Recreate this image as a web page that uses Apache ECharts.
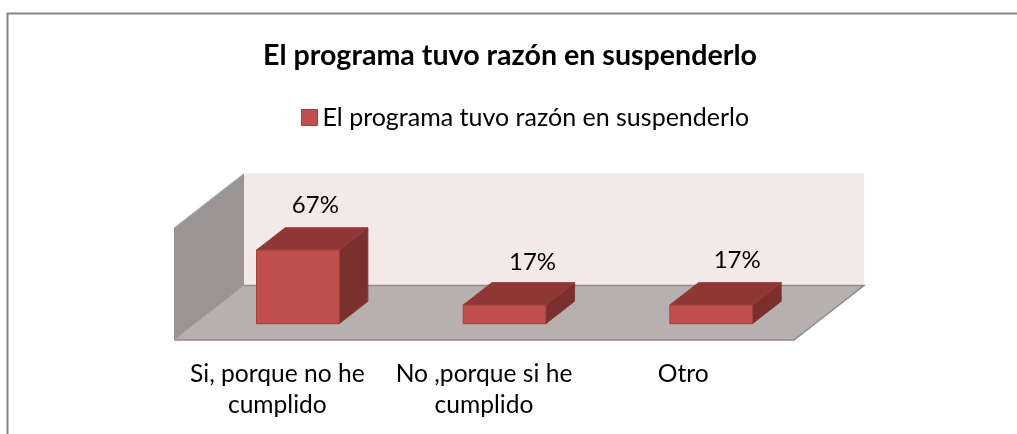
<!DOCTYPE html>
<html><head><meta charset="utf-8">
<style>html,body{margin:0;padding:0;background:#fff}#c{width:1017px;height:434px}</style>
<script src="https://cdn.jsdelivr.net/npm/echarts@6/dist/echarts.min.js"></script>
</head><body><div id="c"></div>
<script>
const chartTitle = 'El programa tuvo razón en suspenderlo';
const seriesName = 'El programa tuvo razón en suspenderlo';
const categories = ['Si, porque no he\ncumplido', 'No ,porque si he\ncumplido', 'Otro'];
const values = [67, 17, 17];
const axisMax = 102;

// 3D projection look
const DEPTH_X = 70, DEPTH_Y = -54.5;      // full floor depth in pixels
const BAR_DEPTH = 0.41;                   // bar depth as a share of floor depth
const BAR_START = 0.30;                   // gap in front of the bars, share of depth
const BAR_BAND = 0.4;                     // bar width as a share of a category
const LABEL_DX = [17.5, 28, 26], LABEL_DY = [0, 2, 0];
const FONT = 'Lato, Carlito, sans-serif';

const chart = echarts.init(document.getElementById('c'), null, {renderer: 'canvas'});

function poly(pts, fill, stroke, w) {
  return {type: 'polygon', shape: {points: pts}, style: {fill: fill, stroke: stroke || null, lineWidth: w || 0}};
}

function renderRoom(params, api) {
  const a = api.coord([0, 0]);
  const bw = api.size([1, 0])[0];
  const x0 = a[0] - bw / 2, x1 = x0 + bw * 3;
  const y0 = a[1], yT = api.coord([0, axisMax])[1];
  const dx = DEPTH_X, dy = DEPTH_Y;
  return {type: 'group', silent: true, children: [
    poly([[x0 + dx, y0 + dy], [x1 + dx, y0 + dy], [x1 + dx, yT + dy], [x0 + dx, yT + dy]], '#f4e9e9'),
    poly([[x0, y0], [x0 + dx, y0 + dy], [x0 + dx, yT + dy], [x0, yT]], '#9a9594'),
    poly([[x0, y0], [x1, y0], [x1 + dx, y0 + dy], [x0 + dx, y0 + dy]], '#b8afaf'),
    {type: 'polyline', shape: {points: [[x0, yT], [x0 + dx, yT + dy]]}, style: {stroke: '#b5b1b0', lineWidth: 1, fill: null}},
    {type: 'polyline', shape: {points: [[x0 + dx, y0 + dy], [x0, y0]]}, style: {stroke: '#a5a09f', lineWidth: 1, fill: null}},
    {type: 'polyline', shape: {points: [[x0, y0], [x1, y0], [x1 + dx, y0 + dy], [x0 + dx, y0 + dy]]},
      style: {stroke: '#8f8b8b', lineWidth: 1.5, fill: null}}
  ]};
}

function renderBar(params, api) {
  const i = api.value(0), v = api.value(1);
  const c = api.coord([i, 0]), t = api.coord([i, v]);
  const bw = api.size([1, 0])[0] * BAR_BAND;
  const ox = DEPTH_X * BAR_START, oy = DEPTH_Y * BAR_START;
  const dx = DEPTH_X * BAR_DEPTH, dy = DEPTH_Y * BAR_DEPTH;
  const l = c[0] + ox - bw / 2 - 0.5, r = l + bw, b = c[1] + oy, h = t[1] + oy;
  const edge = '#a2413f';
  return {type: 'group', children: [
    poly([[r, b], [r + dx, b + dy], [r + dx, h + dy], [r, h]], '#7c302e', '#873634', 1),
    poly([[l, h], [r, h], [r + dx, h + dy], [l + dx, h + dy]], '#8f3735', '#983b39', 1),
    poly([[l, b], [r, b], [r, h], [l, h]], '#c0504d', edge, 1),
    {type: 'text', x: (l + r) / 2 + LABEL_DX[i], y: h + dy - 22 + LABEL_DY[i],
      style: {text: Math.round(v) + '%', fill: '#000', font: '24px ' + FONT, align: 'center', verticalAlign: 'middle'}}
  ]};
}

const tickStyle = {fontFamily: FONT, fontSize: 24.6, color: '#000', lineHeight: 31};

chart.setOption({
  animation: false,
  backgroundColor: '#fff',
  graphic: [{type: 'polyline', z: -10, shape: {points: [[7.5, 434], [7.5, 13.5], [1017, 13.5]]},
    style: {fill: null, stroke: '#868686', lineWidth: 2}}],
  title: {text: chartTitle, left: 505, top: 36, textAlign: 'center',
    textStyle: {fontFamily: FONT, fontSize: 28.6, fontWeight: 'bold', color: '#000'}},
  legend: {data: [{name: seriesName, icon: 'rect'}], left: 296, top: 100, itemWidth: 16, itemHeight: 16, itemGap: 5,
    textStyle: {fontFamily: FONT, fontSize: 25, color: '#000'},
    itemStyle: {color: '#c0504d', borderColor: '#a2413f', borderWidth: 1}},
  grid: {left: 174, right: 223, top: 228, bottom: 94},
  xAxis: {type: 'category', data: categories, axisLine: {show: false}, axisTick: {show: false},
    axisLabel: Object.assign({}, tickStyle, {margin: 19, interval: 0, hideOverlap: false,
      formatter: function (value, idx) {
        return value.split('\n').map(function (s) { return '{t' + idx + '|' + s + '}'; }).join('\n');
      },
      rich: {
        t0: Object.assign({}, tickStyle),
        t1: Object.assign({}, tickStyle),
        t2: Object.assign({padding: [0, 15, 0, 0]}, tickStyle)
      }})},
  yAxis: {type: 'value', min: 0, max: axisMax, show: false},
  series: [
    {type: 'custom', name: 'room', z: 1, silent: true, renderItem: renderRoom, data: [[0, 0]], clip: false},
    {type: 'custom', name: seriesName, z: 2, renderItem: renderBar, clip: false,
      itemStyle: {color: '#c0504d'},
      encode: {x: 0, y: 1}, data: values.map((v, i) => [i, v])}
  ]
});
</script></body></html>
